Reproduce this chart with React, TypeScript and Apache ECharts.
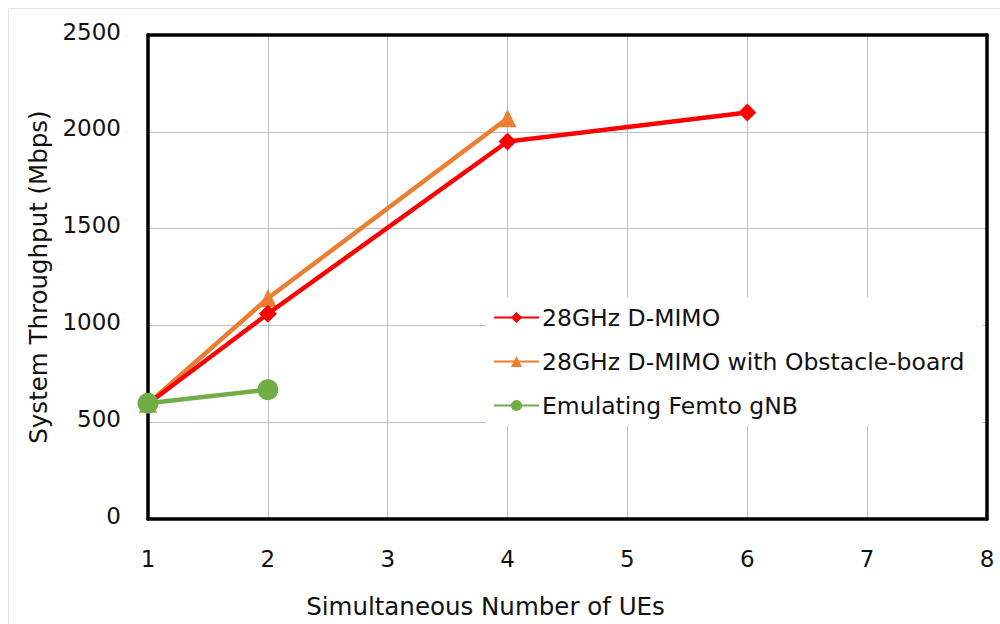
import React, { useEffect, useRef } from "react";
import * as echarts from "echarts";

const xTicks = [1, 2, 3, 4, 5, 6, 7, 8];
const yTicks = [0, 500, 1000, 1500, 2000, 2500];

const dmimoX = [1, 2, 4, 6];
const dmimoY = [595, 1060, 1950, 2100];

const obstacleX = [1, 2, 4];
const obstacleY = [595, 1140, 2070];

const femtoX = [1, 2];
const femtoY = [598, 668];

const seriesNames = [
  "28GHz D-MIMO",
  "28GHz D-MIMO with Obstacle-board",
  "Emulating Femto gNB",
];

const pairs = (xs: number[], ys: number[]) => xs.map((x, i) => [x, ys[i]]);

const FONT = "DejaVu Sans";
const TEXT = "#111111";
const border = { show: true, onZero: false, lineStyle: { color: "#000", width: 3.5 } };

export default function App() {
  const ref = useRef<HTMLDivElement>(null);
  useEffect(() => {
    document.body.style.margin = "0";
    const chart = echarts.init(ref.current!, undefined, { renderer: "svg" });
    const xMin = xTicks[0];
    const xMax = xTicks[xTicks.length - 1];
    const yMin = yTicks[0];
    const yMax = yTicks[yTicks.length - 1];
    chart.setOption({
      animation: false,
      backgroundColor: "#ffffff",
      graphic: [
        {
          type: "rect",
          shape: { x: 8.5, y: 8.5, width: 1100, height: 800 },
          style: { fill: "none", stroke: "#e6e6e6", lineWidth: 1 },
          silent: true,
          z: -10,
        },
      ],
      grid: {
        left: 148,
        right: 13,
        top: 35,
        bottom: 103,
      },
      legend: {
        orient: "vertical",
        left: 486,
        top: 297,
        backgroundColor: "#ffffff",
        padding: [7, 18, 7, 7],
        itemGap: 17,
        itemWidth: 45,
        itemHeight: 14,
        z: 1,
        textStyle: {
          fontFamily: FONT,
          fontSize: 23.5,
          lineHeight: 27,
          color: TEXT,
          padding: [0, 0, 0, -2],
        },
        data: seriesNames,
      },
      xAxis: [
        {
          type: "value",
          min: xMin,
          max: xMax,
          interval: 1,
          name: "Simultaneous Number of UEs",
          nameLocation: "middle",
          nameGap: 75,
          nameTextStyle: {
            fontFamily: FONT,
            fontSize: 24.5,
            color: TEXT,
            padding: [0, 164, 0, 0],
          },
          axisLine: border,
          axisTick: { show: false },
          axisLabel: {
            margin: 28,
            fontFamily: FONT,
            fontSize: 23,
            color: TEXT,
            formatter: (v: number) => String(v),
          },
          splitLine: { show: true, lineStyle: { color: "#bfbfbf", width: 1 } },
        },
        {
          type: "value",
          position: "top",
          min: xMin,
          max: xMax,
          interval: 1,
          axisLine: border,
          axisTick: { show: false },
          axisLabel: { show: false },
          splitLine: { show: false },
        },
      ],
      yAxis: [
        {
          type: "value",
          min: yMin,
          max: yMax,
          interval: 500,
          name: "System Throughput (Mbps)",
          nameLocation: "middle",
          nameGap: 97,
          nameTextStyle: { fontFamily: FONT, fontSize: 24.5, color: TEXT },
          axisLine: border,
          axisTick: { show: false },
          axisLabel: {
            margin: 27,
            fontFamily: FONT,
            fontSize: 23,
            color: TEXT,
            verticalAlign: "bottom",
            padding: [0, 0, -8, 0],
            formatter: (v: number) => String(v),
          },
          splitLine: { show: true, lineStyle: { color: "#bfbfbf", width: 1 } },
        },
        {
          type: "value",
          position: "right",
          min: yMin,
          max: yMax,
          interval: 500,
          axisLine: border,
          axisTick: { show: false },
          axisLabel: { show: false },
          splitLine: { show: false },
        },
      ],
      series: [
        {
          name: seriesNames[0],
          type: "line",
          data: pairs(dmimoX, dmimoY),
          symbol: "diamond",
          symbolSize: 18,
          z: 3,
          itemStyle: { color: "#ff0000" },
          lineStyle: { color: "#ff0000", width: 4.5 },
        },
        {
          name: seriesNames[1],
          type: "line",
          data: pairs(obstacleX, obstacleY),
          symbol: "triangle",
          symbolSize: 18,
          z: 2,
          itemStyle: { color: "#ed7d31" },
          lineStyle: { color: "#ed7d31", width: 4.5 },
        },
        {
          name: seriesNames[2],
          type: "line",
          data: pairs(femtoX, femtoY),
          symbol: "circle",
          symbolSize: 21,
          z: 4,
          itemStyle: { color: "#70ad47" },
          lineStyle: { color: "#70ad47", width: 4.5 },
        },
      ],
    });
    return () => chart.dispose();
  }, []);
  return <div ref={ref} style={{ width: 1000, height: 624 }} />;
}
